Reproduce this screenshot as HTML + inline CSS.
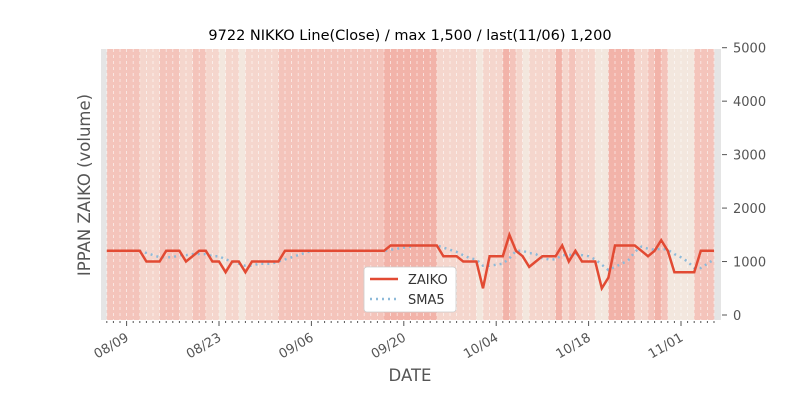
<!DOCTYPE html>
<html><head><meta charset="utf-8"><style>
body{margin:0;background:#fff;}
svg{display:block;font-family:"DejaVu Sans","Liberation Sans",sans-serif;}
</style></head><body>
<svg id="c" width="800" height="400" viewBox="0 0 800 400">
<rect x="0" y="0" width="800" height="400" fill="#fff"/>
<text x="410" y="40" font-size="14.5" text-anchor="middle" fill="#000">9722 NIKKO Line(Close) / max 1,500 / last(11/06) 1,200</text>
<rect x="101" y="49" width="620" height="271" fill="#e5e5e5"/>
<g id="bands"></g>
<g id="grid"></g>
<g id="series"></g>
<g id="xaxis"></g>
<g id="yaxis"></g>
<text x="0" y="0" transform="translate(90,185) rotate(-90)" font-size="16.5" fill="#555" text-anchor="middle">IPPAN ZAIKO (volume)</text>
<text x="410" y="381" font-size="16.5" fill="#555" text-anchor="middle">DATE</text>
<g>
<rect x="364" y="267" width="92" height="45" rx="3" fill="#fff" stroke="#ccc" stroke-width="0.8"/>
<line x1="370" y1="279" x2="398" y2="279" stroke="#e24a33" stroke-width="2.5"/>
<text x="408" y="284" font-size="13" fill="#333">ZAIKO</text>
<line x1="370" y1="299" x2="398" y2="299" stroke="#8ebad9" stroke-width="2.5" stroke-dasharray="2,4"/>
<text x="408" y="304" font-size="13" fill="#333">SMA5</text>
</g>
</svg>
<script>
const startDate = [2019, 7, 6]; // Aug 6
const zaiko = [1200,1200,1200,1200,1200,1200,1000,1000,1000,1200,1200,1200,1000,1100,1200,1200,1000,1000,800,1000,1000,800,1000,1000,1000,1000,1000,1200,1200,1200,1200,1200,1200,1200,1200,1200,1200,1200,1200,1200,1200,1200,1200,1300,1300,1300,1300,1300,1300,1300,1300,1100,1100,1100,1000,1000,1000,500,1100,1100,1100,1500,1200,1100,900,1000,1100,1100,1100,1300,1000,1200,1000,1000,1000,500,700,1300,1300,1300,1300,1200,1100,1200,1400,1200,800,800,800,800,1200,1200,1200];
const volumeLevel = [2,2,2,2,2,1,1,1,2,2,2,1,1,2,2,1,1,0,1,1,0,1,1,1,1,1,2,2,2,2,2,2,2,2,2,2,2,2,2,2,2,2,3,3,3,3,3,3,3,3,1,1,1,1,1,1,0,1,1,1,3,2,1,0,1,1,1,1,3,1,2,1,1,1,0,0,3,3,3,3,1,1,2,3,2,0,0,0,0,2,2,2];
const yTicks = [0,1000,2000,3000,4000,5000];
const xTickIdx = [3,17,31,45,59,73,87];

const NS = "http://www.w3.org/2000/svg";
const X0 = 106.8, DX = 6.6;
const xs = i => X0 + DX * i;
const ys = v => 315 - v * 0.05346;
function mk(tag, attrs, parent){ const e=document.createElementNS(NS,tag); for(const k in attrs) e.setAttribute(k,attrs[k]); parent.appendChild(e); return e; }
const levelColors = ["#f3e7de","#f5d6cd","#f4c4bb","#f2b3a9"];
const bands = document.getElementById('bands');
volumeLevel.forEach((l,i)=>{
  const r = mk('rect',{x:xs(i),y:49,width:DX+0.3,height:271,fill:levelColors[l]},bands);
  
  
});
const grid = document.getElementById('grid');
zaiko.forEach((v,i)=>{
  const g = mk('line',{x1:xs(i),y1:49,x2:xs(i),y2:320,stroke:'#fff','stroke-width':0.8,'stroke-dasharray':'3,3','stroke-opacity':0.7},grid);
  
  
});
const sma = zaiko.map((v,i)=> i<4 ? null : (zaiko.slice(i-4,i+1).reduce((a,b)=>a+b,0)/5));
const series = document.getElementById('series');
let sp = ""; sma.forEach((v,i)=>{ if(v!==null) sp += (sp?" L":"M")+xs(i).toFixed(1)+","+ys(v).toFixed(1); });
const smaPath = mk('path',{d:sp,fill:'none',stroke:'#8ebad9','stroke-width':2.5,'stroke-dasharray':'2,4'},series);


let zp = ""; zaiko.forEach((v,i)=>{ zp += (i?" L":"M")+xs(i).toFixed(1)+","+ys(v).toFixed(1); });
const zl = mk('path',{d:zp,fill:'none',stroke:'#e24a33','stroke-width':2.5,'stroke-linejoin':'miter'},series);


const xa = document.getElementById('xaxis');
zaiko.forEach((v,i)=>{
  const major = xTickIdx.includes(i);
  const t = mk('line',{x1:xs(i),y1:321,x2:xs(i),y2:major?326:323,stroke:'#555','stroke-width':1},xa);
  
  
});
xTickIdx.forEach(i=>{
  const d = new Date(startDate[0],startDate[1],startDate[2]+i);
  const lab = String(d.getMonth()+1).padStart(2,'0')+"/"+String(d.getDate()).padStart(2,'0');
  const x = xs(i);
  const t = mk('text',{x:0,y:0,transform:`translate(${x+3},${340}) rotate(-30)`,'font-size':13,fill:'#555','text-anchor':'end'},xa);
  t.textContent = lab;
  
  
});
const ya = document.getElementById('yaxis');
yTicks.forEach(v=>{
  const y = ys(v);
  const t = mk('line',{x1:722,y1:y,x2:727,y2:y,stroke:'#555','stroke-width':1},ya);
  
  
  const l = mk('text',{x:733,y:y+5,'font-size':13,fill:'#555'},ya);
  l.textContent = v;
  
  
});
</script>
</body></html>
